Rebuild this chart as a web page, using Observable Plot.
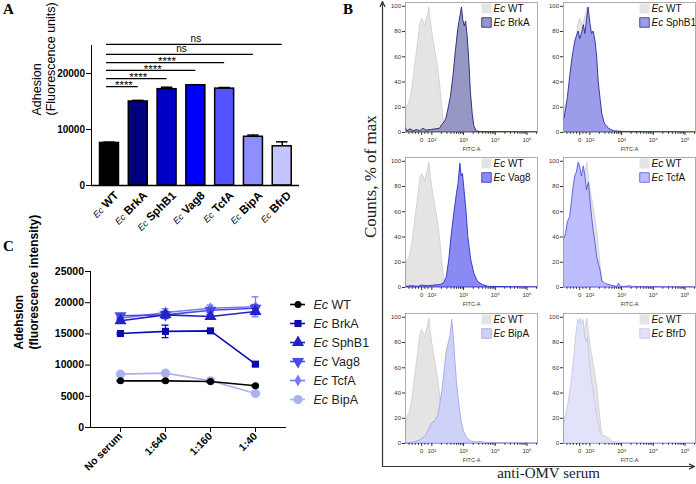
<!DOCTYPE html>
<html><head><meta charset="utf-8">
<script src="https://cdn.jsdelivr.net/npm/d3@7"></script>
<script src="https://cdn.jsdelivr.net/npm/@observablehq/plot@0.6"></script>
<style>
body{margin:0;background:#fff;}
#root{position:relative;width:696px;height:484px;overflow:hidden;font-family:"Liberation Sans",Arial,sans-serif;}
.plabel{position:absolute;font-family:"Liberation Serif","Times New Roman",serif;font-weight:bold;font-size:15px;line-height:15px;color:#000;}
</style></head><body><div id="root"></div>
<script>
// ---------- Panel A data ----------
const strainsA = ["Ec WT","Ec BrkA","Ec SphB1","Ec Vag8","Ec TcfA","Ec BipA","Ec BfrD"];
const adhesionA = [7600, 15000, 17200, 17900, 17300, 8700, 7000];
const errorA = [150, 200, 350, 100, 200, 300, 800];
const colorsA = ["#000000","#000080","#0000c4","#0000ff","#5252ff","#8e8eff","#c4c4ff"];
const sigTargets = ["Ec BrkA","Ec SphB1","Ec Vag8","Ec TcfA","Ec BipA","Ec BfrD"];
const sigLabels = ["****","****","****","****","ns","ns"];
const sigLevels = [17650, 19100, 20550, 21950, 23400, 25200];

// ---------- Panel C data ----------
const dilutions = ["No serum","1:640","1:160","1:40"];
const seriesC = ["Ec WT","Ec BrkA","Ec SphB1","Ec Vag8","Ec TcfA","Ec BipA"];
const wtC = [7480, 7480, 7370, 6680];
const brkaC = [15060, 15400, 15490, 10150];
const sphb1C = [17100, 18050, 17790, 18590];
const vag8C = [17900, 18050, 18800, 19120];
const tcfaC = [17520, 18430, 19120, 19340];
const bipaC = [8550, 8710, 7480, 5450];
const wtErr = [100, 150, 100, 150];
const brkaErr = [150, 1000, 150, 250];
const sphb1Err = [300, 500, 300, 500];
const vag8Err = [300, 600, 400, 600];
const tcfaErr = [300, 600, 500, 1600];
const bipaErr = [150, 200, 150, 200];
const colorsC = ["#000000","#0b0bb0","#2222c8","#4a4ae6","#7a7af0","#a9b1f2"];

// ---------- Panel B data (display units: 0 -> 0, 10^2 -> 0.32, one decade = 1) ----------
const fitcTickPos = [0, 0.32, 1.32, 2.32, 3.32];
const fitcTickLabels = ["0","10²","10³","10⁴","10⁵"];
const countTicks = [0, 20, 40, 60, 80, 100];
const wtHist = [[-0.51,12],[-0.45,21],[-0.38,24],[-0.3,34],[-0.24,46],[-0.17,60],[-0.1,74],[-0.04,86],[0.01,90],[0.06,88],[0.11,84],[0.16,90],[0.2,93],[0.24,99],[0.28,90],[0.33,80],[0.38,72],[0.44,63],[0.5,54],[0.55,45],[0.6,33],[0.65,20],[0.7,9],[0.75,3],[0.82,1],[0.95,0.2],[3.65,0]];
const brkaHist = [[-0.51,4],[-0.45,1],[-0.35,2.5],[-0.25,1],[-0.15,2],[-0.05,1],[0.05,3],[0.15,1.5],[0.3,2],[0.45,2.5],[0.58,3],[0.65,6],[0.72,8],[0.78,11],[0.84,18],[0.92,28],[1.0,44],[1.08,65],[1.15,81],[1.22,92],[1.27,99],[1.31,89],[1.36,84],[1.4,88],[1.45,76],[1.5,57],[1.55,32],[1.61,14],[1.66,5],[1.73,1],[1.85,0.3],[3.65,0]];
const sphb1Hist = [[-0.51,9],[-0.47,12],[-0.43,18],[-0.37,28],[-0.3,44],[-0.22,60],[-0.14,72],[-0.09,76],[-0.03,80],[0.02,74],[0.07,78],[0.13,85],[0.18,78],[0.23,89],[0.28,99],[0.34,86],[0.39,78],[0.44,80],[0.5,72],[0.55,60],[0.6,40],[0.66,26],[0.71,15],[0.79,7],[0.92,3],[1.08,1],[1.35,0.5],[2.0,0.3],[3.65,0]];
const vag8Hist = [[-0.51,0.5],[-0.3,1],[-0.1,0.5],[0.0,1.5],[0.2,1],[0.4,1.5],[0.6,2],[0.71,3.5],[0.79,8],[0.87,22],[0.94,40],[1.03,59],[1.11,74],[1.16,82],[1.22,98],[1.26,88],[1.3,90],[1.34,80],[1.41,61],[1.47,40],[1.56,22],[1.66,11],[1.77,4.5],[1.93,2],[2.1,0.5],[3.65,0]];
const tcfaHist = [[-0.51,38],[-0.47,39],[-0.43,43],[-0.37,52],[-0.3,56],[-0.24,69],[-0.19,80],[-0.14,88],[-0.09,91],[-0.03,99],[0.02,95],[0.07,88],[0.13,96],[0.18,88],[0.23,77],[0.29,83],[0.34,69],[0.39,56],[0.44,45],[0.5,35],[0.55,24],[0.6,19],[0.66,13],[0.71,5],[0.82,2.7],[1.03,1.3],[1.18,0.5],[1.24,3.2],[1.29,0.5],[1.45,0.5],[1.56,1],[1.7,0.3],[3.65,0]];
const bipaHist = [[-0.51,0.3],[-0.3,0.5],[-0.24,0.8],[-0.19,1.3],[-0.09,2],[0.02,3.5],[0.13,6],[0.23,11],[0.34,16],[0.44,18],[0.52,22],[0.58,30],[0.66,43],[0.73,59],[0.79,73],[0.87,81],[0.92,87],[0.96,98],[1.0,89],[1.05,70],[1.11,49],[1.19,30],[1.26,17],[1.34,9],[1.45,3.5],[1.58,1.3],[1.77,0.8],[1.87,1.3],[1.98,0.5],[3.65,0]];
const bfrdHist = [[-0.51,12],[-0.48,16],[-0.41,24],[-0.34,34],[-0.27,45],[-0.2,61],[-0.15,74],[-0.1,87],[-0.05,98],[-0.01,95],[0.03,99],[0.07,94],[0.12,98],[0.17,84],[0.22,80],[0.26,84],[0.31,66],[0.36,55],[0.42,44],[0.48,34],[0.54,24],[0.6,15],[0.66,9],[0.74,6],[0.86,5],[0.93,4],[1.04,1.3],[1.25,0.5],[3.65,0]];

// ---------- helpers ----------
const FONT = '"Liberation Sans", Arial, sans-serif';
const SERIF = '"Liberation Serif", "Times New Roman", serif';
const NS = "http://www.w3.org/2000/svg";
const root = document.getElementById("root");
function place(el, left, top) {
  el.style.position = "absolute"; el.style.left = left + "px"; el.style.top = top + "px";
  root.appendChild(el); return el;
}
function styleEc(svg, opts = {}) {
  svg.querySelectorAll("text").forEach(t => {
    const s = t.textContent;
    if (!s.startsWith("Ec ") || t.querySelector("tspan")) return;
    t.textContent = "";
    const a = document.createElementNS(NS, "tspan");
    a.setAttribute("font-style", "italic");
    if (opts.weight) a.setAttribute("font-weight", opts.weight);
    if (opts.size) a.setAttribute("font-size", opts.size);
    a.textContent = "Ec";
    t.appendChild(a);
    t.appendChild(document.createTextNode(" " + s.slice(3)));
  });
}
const baseStyle = {fontFamily: FONT, color: "#000", background: "none", overflow: "visible"};

// ---------- Panel B frame (axes arrows) ----------
const axisArrows = [{x1: 0, y1: 0, x2: 0, y2: 1}, {x1: 0, y1: 0, x2: 1, y2: 0}];
const plotB = Plot.plot({
  width: 356, height: 484, marginLeft: 42, marginRight: 2, marginTop: 1, marginBottom: 18,
  x: {domain: [0, 1], axis: null}, y: {domain: [0, 1], axis: null},
  style: baseStyle,
  marks: [
    Plot.arrow(axisArrows, {x1: "x1", y1: "y1", x2: "x2", y2: "y2", stroke: "#333", strokeWidth: 1.2, headLength: 7, headAngle: 50}),
    Plot.text(["Counts, % of max"], {frameAnchor: "left", rotate: -90, dx: -12, dy: 4, fontSize: 17, fontFamily: SERIF, fill: "#222"}),
    Plot.text(["anti-OMV serum"], {frameAnchor: "bottom", dx: 10, dy: 11, fontSize: 15, fontFamily: SERIF, fill: "#222"})
  ]
});
place(plotB, 340, 0);

// ---------- Panel B histograms ----------
const minorU = [];
for (const base of [0.32, 1.32, 2.32]) for (let m = 2; m <= 9; m++) minorU.push(base + Math.log10(m));
minorU.push(3.32 + Math.log10(2), -0.4, -0.3, -0.2, -0.1, 0.1, 0.2);
const histPanels = [
  {strain: "BrkA", pts: brkaHist, fill: "#9797c6", stroke: "#22226e", col: 0, row: 0},
  {strain: "SphB1", pts: sphb1Hist, fill: "#9c9cea", stroke: "#2a2a9c", col: 1, row: 0},
  {strain: "Vag8", pts: vag8Hist, fill: "#8a8af2", stroke: "#2f2fc4", col: 0, row: 1},
  {strain: "TcfA", pts: tcfaHist, fill: "#bdbdfd", stroke: "#5858d8", col: 1, row: 1},
  {strain: "BipA", pts: bipaHist, fill: "#cfd2f8", stroke: "#a0a6ea", col: 0, row: 2},
  {strain: "BfrD", pts: bfrdHist, fill: "#e2e3fa", stroke: "#c4c8f0", col: 1, row: 2}
];
const rowTops = [0, 155, 311];
const WT_FILL = "#e4e4e4", WT_STROKE = "#cdcdcd";
histPanels.forEach(p => {
  const wt = wtHist.map(([u, c]) => ({u, c}));
  const st = p.pts.map(([u, c]) => ({u, c}));
  const svg = Plot.plot({
    width: 158, height: 154, marginLeft: 22, marginRight: 4, marginTop: 2, marginBottom: 22,
    x: {domain: [-0.51, 3.65], label: null},
    y: {domain: [0, 103], label: null},
    style: {...baseStyle, fontSize: "6px", color: "#333"},
    marks: [
      Plot.areaY(wt, {x: "u", y: "c", fill: WT_FILL, stroke: WT_STROKE, strokeWidth: 0.8, clip: true}),
      Plot.areaY(st, {x: "u", y: "c", fill: p.fill, stroke: p.stroke, strokeWidth: 0.9, clip: true}),
      Plot.frame({stroke: "#9a9a9a", strokeWidth: 0.8}),
      Plot.axisX({ticks: fitcTickPos, tickFormat: d => fitcTickLabels[fitcTickPos.indexOf(d)], tickSize: 3, tickPadding: 2, fontSize: 6}),
      Plot.axisX({ticks: minorU, tickSize: 1.8, tickFormat: () => ""}),
      Plot.axisY({ticks: countTicks, tickSize: 3, tickPadding: 1.5, fontSize: 6}),
      Plot.text(["FITC-A"], {frameAnchor: "bottom", dy: 18, fontSize: 5.5})
    ]
  });
  place(svg, 383 + 158 * p.col, rowTops[p.row]);
  const names = ["Ec WT", "Ec " + p.strain];
  const leg = Plot.plot({
    width: 56, height: 28, marginLeft: 0, marginRight: 46, marginTop: 7, marginBottom: 7,
    y: {type: "point", domain: names, padding: 0, axis: null},
    style: {...baseStyle, fontSize: "10px", color: "#111"},
    marks: [
      Plot.dot([names[0]], {y: d => d, symbol: "square", r: 5.6, fill: WT_FILL, stroke: "none"}),
      Plot.dot([names[1]], {y: d => d, symbol: "square", r: 5.4, fill: p.fill, stroke: p.stroke, strokeWidth: 0.8}),
      Plot.text(names, {y: d => d, text: d => d, frameAnchor: "right", textAnchor: "start", dx: 2})
    ]
  });
  styleEc(leg);
  place(leg, 481 + 158 * p.col, rowTops[p.row] + 1);
});

// ---------- Panel A ----------
const dataA = strainsA.map((s, i) => ({strain: s, i, v: adhesionA[i], e: errorA[i], fill: colorsA[i]}));
const wtIndex = strainsA.indexOf("Ec WT");
const dataSig = sigTargets.map((t, k) => ({to: strainsA.indexOf(t), y: sigLevels[k], label: sigLabels[k]}));
const plotA = Plot.plot({
  width: 340, height: 230, marginLeft: 91, marginRight: 41, marginTop: 45, marginBottom: 45,
  x: {domain: [-0.625, 6.6], axis: null},
  y: {domain: [0, 25000], ticks: [0, 10000, 20000], tickSize: 5, tickPadding: 1.5, tickFormat: d => String(d), label: null, line: true},
  style: {...baseStyle, fontSize: "10px", fontWeight: "bold"},
  marks: [
    Plot.ruleX(dataA, {x: "i", y1: "v", y2: d => d.v + d.e, strokeWidth: 1.5}),
    Plot.ruleY(dataA, {x1: d => d.i - 0.2, x2: d => d.i + 0.2, y: d => d.v + d.e, strokeWidth: 1.5}),
    Plot.rect(dataA, {x1: d => d.i - 0.33, x2: d => d.i + 0.33, y1: 0, y2: "v", fill: "fill", stroke: "#000", strokeWidth: 1.5}),
    Plot.ruleY([0], {strokeWidth: 1.5}),
    Plot.ruleY(dataSig, {x1: wtIndex, x2: "to", y: "y", insetLeft: -3, strokeWidth: 1.2}),
    Plot.text(dataSig.filter(d => d.label !== "ns"), {x: d => (wtIndex + d.to) / 2, y: "y", text: "label", dy: -1, fontSize: 11.5, fontWeight: "normal"}),
    Plot.text(dataSig.filter(d => d.label === "ns"), {x: d => (wtIndex + d.to) / 2, y: "y", text: "label", dy: -5.5, fontSize: 10, fontWeight: "normal"}),
    Plot.text(dataA, {x: "i", y: 0, text: "strain", rotate: -45, textAnchor: "end", dx: 7, dy: 8, fontSize: 11.5}),
    Plot.text(["Adhesion\n(Fluorescence units)"], {frameAnchor: "left", rotate: -90, dx: -48, fontSize: 12.5, fontWeight: "normal", lineHeight: 1.12})
  ]
});
styleEc(plotA, {weight: "normal", size: 9});
place(plotA, 0, 0);

// ---------- Panel C ----------
const valuesC = [wtC, brkaC, sphb1C, vag8C, tcfaC, bipaC];
const errorsC = [wtErr, brkaErr, sphb1Err, vag8Err, tcfaErr, bipaErr];
const symbolsC = ["circle", "square", "triangle", "triangle", "diamond", "circle"];
const rotateC = [0, 0, 0, 180, 0, 0];
const radiusC = [3.5, 4, 4.5, 4.5, 3.6, 4.6];
const dataC = [];
seriesC.forEach((s, k) => dilutions.forEach((d, j) => dataC.push({series: s, k, dil: d, v: valuesC[k][j], e: errorsC[k][j]})));
const marksC = [];
[5, 0, 4, 3, 2, 1].forEach(k => {
  const sub = dataC.filter(d => d.k === k);
  const c = colorsC[k];
  marksC.push(
    Plot.line(sub, {x: "dil", y: "v", stroke: c, strokeWidth: 1.6}),
    Plot.ruleX(sub, {x: "dil", y1: d => d.v - d.e, y2: d => d.v + d.e, stroke: c, strokeWidth: 1.3}),
    Plot.ruleY(sub, {x1: "dil", x2: "dil", y: d => d.v + d.e, insetLeft: -3.5, insetRight: -3.5, stroke: c, strokeWidth: 1.3}),
    Plot.ruleY(sub, {x1: "dil", x2: "dil", y: d => d.v - d.e, insetLeft: -3.5, insetRight: -3.5, stroke: c, strokeWidth: 1.3}),
    Plot.dot(sub, {x: "dil", y: "v", symbol: symbolsC[k], r: radiusC[k], rotate: rotateC[k], fill: c, stroke: "none"})
  );
});
const plotC = Plot.plot({
  width: 300, height: 264, marginLeft: 90, marginRight: 15, marginTop: 51, marginBottom: 57,
  x: {type: "point", domain: dilutions, padding: 0.63, line: true, tickSize: 5, tickPadding: 2, tickRotate: -45, label: null},
  y: {domain: [0, 25000], ticks: [0, 5000, 10000, 15000, 20000, 25000], tickSize: 5, tickPadding: 1.5, tickFormat: d => String(d), label: null, line: true},
  style: {...baseStyle, fontSize: "10.5px", fontWeight: "bold"},
  marks: [
    ...marksC,
    Plot.text(["Adehsion\n(fluorescence intensity)"], {frameAnchor: "left", rotate: -90, dx: -65, fontSize: 12, fontWeight: "bold", lineHeight: 1.28})
  ]
});
place(plotC, 0, 220);

// legend C
const legC = Plot.plot({
  width: 100, height: 117, marginLeft: 5, marginRight: 80, marginTop: 10, marginBottom: 10,
  y: {type: "point", domain: seriesC, padding: 0, axis: null},
  style: {...baseStyle, fontSize: "12.5px", color: "#222"},
  marks: [
    ...seriesC.map((s, k) => Plot.ruleY([s], {y: d => d, stroke: colorsC[k], strokeWidth: 1.6})),
    ...seriesC.map((s, k) => Plot.dot([s], {y: d => d, symbol: symbolsC[k], r: radiusC[k], rotate: rotateC[k], fill: colorsC[k], stroke: "none"})),
    Plot.text(seriesC, {y: d => d, text: d => d, frameAnchor: "right", textAnchor: "start", dx: 8})
  ]
});
styleEc(legC);
place(legC, 285, 293);

// panel letters
[["A", 3, 2], ["B", 343, 2], ["C", 3, 239]].forEach(([t, x, y]) => {
  const d = document.createElement("div"); d.className = "plabel"; d.textContent = t;
  d.style.left = x + "px"; d.style.top = y + "px"; root.appendChild(d);
});
</script></body></html>
